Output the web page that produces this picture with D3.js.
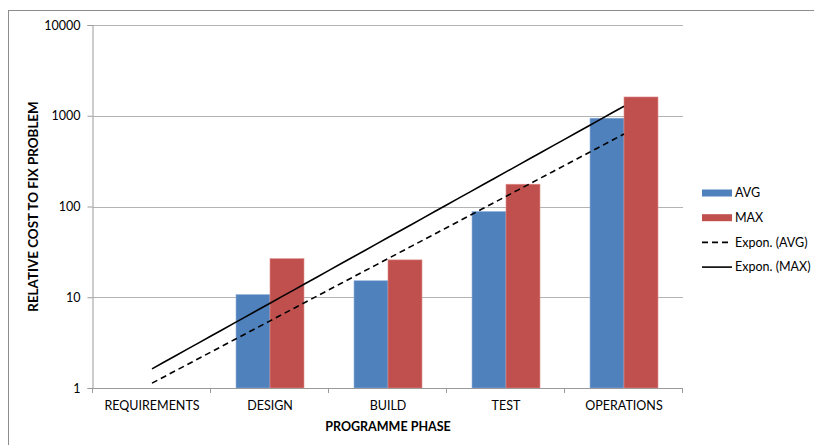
<!DOCTYPE html>
<html><head><meta charset="utf-8">
<script src="https://cdn.jsdelivr.net/npm/d3@7/dist/d3.min.js"></script>
<style>
html,body{margin:0;padding:0;background:#fff;}
svg{display:block;font-family:Lato,"Open Sans",sans-serif;}
</style></head>
<body><svg id="c" width="814" height="445"></svg>
<script>
const categories = ["REQUIREMENTS","DESIGN","BUILD","TEST","OPERATIONS"];
const avgValues = [1, 10.7, 15.2, 88, 940];
const maxValues = [1, 26.6, 25.8, 176, 1610];
const yTicks = [1, 10, 100, 1000, 10000];
const seriesNames = ["AVG","MAX"];
const legendLabels = ["AVG","MAX","Expon. (AVG)","Expon. (MAX)"];

const colors = {AVG:"#4F81BD", MAX:"#C0504D"};
const svg = d3.select("#c");
const L = 93, R = 683, T = 25, B = 388;

// outer frame
svg.append("rect").attr("x",8.5).attr("y",10.5).attr("width",830).attr("height",460)
  .attr("fill","none").attr("stroke","#8c8c8c").attr("stroke-width",1);

const x0 = d3.scaleBand().domain(categories).range([L,R]).padding(0);
const groupW = x0.bandwidth()*0.576;
const x1 = d3.scaleBand().domain(seriesNames).range([0,groupW]).padding(0);
const y = d3.scaleLog().domain([1,10000]).range([B,T]);

// gridlines
svg.append("g").selectAll("line").data(yTicks.slice(1)).join("line")
  .attr("x1",L).attr("x2",R).attr("y1",d=>Math.round(y(d))+0.5).attr("y2",d=>Math.round(y(d))+0.5)
  .attr("stroke","#b3b3b3").attr("stroke-width",1);

// bars
const data = categories.map((c,i)=>({cat:c, AVG:avgValues[i], MAX:maxValues[i]}));
const g = svg.append("g");
data.forEach(d=>{
  seriesNames.forEach(s=>{
    if (d[s] <= 1) return;
    const bx = x0(d.cat) + (x0.bandwidth()-groupW)/2 + x1(s);
    g.append("rect").attr("x",bx).attr("y",y(d[s])).attr("width",x1.bandwidth())
      .attr("height",y(1)-y(d[s])).attr("fill",colors[s])
      .attr("stroke", s==="AVG" ? "#8fb0da" : "#e08a88").attr("stroke-width",0.6);
  });
});

// axes
const yAxis = d3.axisLeft(y).tickValues(yTicks).tickFormat(d3.format("d")).tickSize(5).tickPadding(7);
const ya = svg.append("g").attr("transform",`translate(${L-0.5},0)`).call(yAxis);
ya.select(".domain").attr("stroke","#9a9a9a");
ya.selectAll(".tick line").attr("stroke","#9a9a9a");
ya.selectAll("text").attr("font-size",12.5).attr("fill","#000").attr("font-family","Lato,'Open Sans',sans-serif");

const xBound = d3.scaleLinear().domain([0,categories.length]).range([L,R]);
const xa = svg.append("g");
xa.append("line").attr("x1",L-0.5).attr("x2",R).attr("y1",B+0.5).attr("y2",B+0.5).attr("stroke","#9a9a9a");
xa.selectAll("line.t").data(d3.range(categories.length+1)).join("line").attr("class","t")
  .attr("x1",d=>Math.round(xBound(d))-0.5).attr("x2",d=>Math.round(xBound(d))-0.5)
  .attr("y1",B).attr("y2",B+5).attr("stroke","#9a9a9a");
xa.selectAll("text").data(categories).join("text")
  .attr("x",d=>x0(d)+x0.bandwidth()/2).attr("y",B+22)
  .attr("text-anchor","middle").attr("font-size",12.5).attr("fill","#000").text(d=>d);

// axis titles
svg.append("text").attr("x",(L+R)/2).attr("y",B+43).attr("text-anchor","middle")
  .attr("font-size",12.5).attr("font-weight","bold").text("PROGRAMME PHASE");
svg.append("text").attr("transform",`translate(38,${(T+B)/2}) rotate(-90)`).attr("text-anchor","middle")
  .attr("font-size",13.4).attr("font-weight","bold").text("RELATIVE COST TO FIX PROBLEM");

// exponential trendlines (least squares on ln y)
function expFit(vals){
  const xs = vals.map((v,i)=>i+1), ls = vals.map(v=>Math.log(v));
  const mx = d3.mean(xs), my = d3.mean(ls);
  const b = d3.sum(xs.map((xv,i)=>(xv-mx)*(ls[i]-my)))/d3.sum(xs.map(xv=>(xv-mx)**2));
  const a = my - b*mx;
  return xv => Math.exp(a + b*xv);
}
const xc = i => x0(categories[i]) + x0.bandwidth()/2;
const trends = [{vals:avgValues, dash:"6,4"},{vals:maxValues, dash:null}];
const lineGen = d3.line().x(d=>d[0]).y(d=>d[1]);
trends.forEach(t=>{
  const f = expFit(t.vals);
  const pts = d3.range(1, categories.length+0.001, 0.1).map(xv=>[x0.bandwidth()*(xv-1)+xc(0), y(f(xv))]);
  svg.append("path").attr("d",lineGen(pts)).attr("fill","none").attr("stroke","#000")
    .attr("stroke-width",1.6).attr("stroke-dasharray",t.dash);
});

// legend
const lg = svg.append("g");
legendLabels.forEach((lab,i)=>{
  const ly = 193 + i*24.7;
  if (i<2) {
    lg.append("rect").attr("x",702).attr("y",ly-3.5).attr("width",30).attr("height",7).attr("fill",colors[seriesNames[i]]);
  } else {
    lg.append("line").attr("x1",702).attr("x2",732).attr("y1",ly).attr("y2",ly).attr("stroke","#000")
      .attr("stroke-width",1.6).attr("stroke-dasharray", i===2 ? "6,4" : null);
  }
  lg.append("text").attr("x",735).attr("y",ly).attr("dy","0.35em").attr("font-size",12.5).text(lab);
});
</script></body></html>
